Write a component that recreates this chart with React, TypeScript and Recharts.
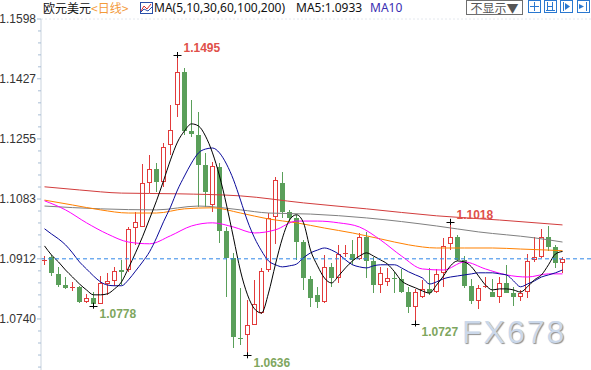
import React from 'react';
import { ComposedChart, Bar, Line, XAxis, YAxis, ReferenceLine, ReferenceDot } from 'recharts';

// daily EUR/USD candles
const opens = [
  1.0908, 1.0917, 1.0869, 1.0837, 1.0831, 1.0832, 1.0789, 1.0800, 1.0783, 1.0840,
  1.0849, 1.0880, 1.0880, 1.1000, 1.1003, 1.1129, 1.1169, 1.1132, 1.1238, 1.1352,
  1.1446, 1.1278, 1.1266, 1.1181, 1.1066, 1.1175, 1.0992, 1.0915, 1.0686, 1.0694,
  1.0723, 1.0757, 1.0880, 1.1032, 1.1129, 1.1046, 1.1029, 1.0960, 1.0855, 1.0809,
  1.0789, 1.0889, 1.0857, 1.0928, 1.0926, 1.0912, 1.0975, 1.0906, 1.0837, 1.0846,
  1.0857, 1.0855, 1.0817, 1.0774, 1.0803, 1.0826, 1.0817, 1.0872, 1.0955, 1.0975,
  1.0909, 1.0834, 1.0792, 1.0834, 1.0817, 1.0803, 1.0843, 1.0814, 1.0803, 1.0817,
  1.0909, 1.0917, 1.0975, 1.0946, 1.0899,
];
const closes = [
  1.0909, 1.0872, 1.0837, 1.0829, 1.0832, 1.0789, 1.0800, 1.0783, 1.0843, 1.0849,
  1.0877, 1.0875, 1.0998, 1.1017, 1.1129, 1.1169, 1.1132, 1.1232, 1.1281, 1.1446,
  1.1278, 1.1269, 1.1181, 1.1103, 1.1178, 1.0992, 1.0915, 1.0689, 1.0685, 1.0723,
  1.0783, 1.0877, 1.1029, 1.1138, 1.1046, 1.1029, 1.0960, 1.0857, 1.0800, 1.0789,
  1.0889, 1.0857, 1.0926, 1.0929, 1.0909, 1.0975, 1.0906, 1.0837, 1.0872, 1.0857,
  1.0856, 1.0817, 1.0774, 1.0817, 1.0826, 1.0814, 1.0869, 1.0949, 1.0975, 1.0909,
  1.0834, 1.0792, 1.0829, 1.0835, 1.0803, 1.0843, 1.0814, 1.0803, 1.0814, 1.0906,
  1.0917, 1.0975, 1.0946, 1.0900, 1.0912,
];
const highs = [
  1.0920, 1.0923, 1.0889, 1.0860, 1.0846, 1.0834, 1.0812, 1.0817, 1.0863, 1.0872,
  1.0889, 1.0909, 1.1003, 1.1046, 1.1183, 1.1209, 1.1186, 1.1243, 1.1352, 1.1495,
  1.1458, 1.1366, 1.1332, 1.1215, 1.1189, 1.1186, 1.1003, 1.0929, 1.0829, 1.0794,
  1.0852, 1.0886, 1.1043, 1.1146, 1.1161, 1.1052, 1.1038, 1.0966, 1.0863, 1.0832,
  1.0923, 1.0900, 1.0952, 1.0952, 1.0966, 1.0986, 1.0989, 1.0917, 1.0889, 1.0886,
  1.0875, 1.0883, 1.0832, 1.0826, 1.0852, 1.0886, 1.0883, 1.0972, 1.1018, 1.0980,
  1.0920, 1.0855, 1.0837, 1.0860, 1.0855, 1.0860, 1.0895, 1.0832, 1.0823, 1.0926,
  1.0975, 1.0997, 1.1006, 1.0952, 1.0918,
];
const lows = [
  1.0895, 1.0863, 1.0832, 1.0826, 1.0820, 1.0786, 1.0786, 1.0778, 1.0782, 1.0809,
  1.0834, 1.0837, 1.0875, 1.0952, 1.1002, 1.1100, 1.1103, 1.1118, 1.1209, 1.1318,
  1.1266, 1.1261, 1.1060, 1.1060, 1.1046, 1.0957, 1.0803, 1.0657, 1.0666, 1.0636,
  1.0722, 1.0754, 1.0875, 1.0955, 1.1029, 1.1018, 1.0909, 1.0823, 1.0774, 1.0772,
  1.0786, 1.0832, 1.0843, 1.0917, 1.0895, 1.0909, 1.0857, 1.0814, 1.0814, 1.0834,
  1.0814, 1.0814, 1.0757, 1.0727, 1.0800, 1.0809, 1.0814, 1.0832, 1.0937, 1.0906,
  1.0829, 1.0783, 1.0769, 1.0829, 1.0802, 1.0786, 1.0813, 1.0777, 1.0792, 1.0800,
  1.0903, 1.0915, 1.0935, 1.0886, 1.0872,
];

const ma5 = [
  1.0949, 1.0923, 1.0903, 1.0880, 1.0860, 1.0840, 1.0823, 1.0809, 1.0809, 1.0812,
  1.0826, 1.0846, 1.0886, 1.0929, 1.0975, 1.1026, 1.1078, 1.1135, 1.1195, 1.1246,
  1.1278, 1.1298, 1.1292, 1.1263, 1.1215, 1.1149, 1.1066, 1.0972, 1.0877, 1.0809,
  1.0769, 1.0757, 1.0814, 1.0897, 1.0972, 1.1023, 1.1038, 1.1015, 1.0937, 1.0892,
  1.0857, 1.0843, 1.0863, 1.0886, 1.0906, 1.0920, 1.0929, 1.0920, 1.0909, 1.0897,
  1.0875, 1.0849, 1.0837, 1.0829, 1.0820, 1.0814, 1.0837, 1.0863, 1.0892, 1.0906,
  1.0903, 1.0889, 1.0863, 1.0837, 1.0823, 1.0826, 1.0826, 1.0823, 1.0817, 1.0832,
  1.0852, 1.0866, 1.0895, 1.0926, 1.0933,
];
const ma10 = [
  1.0998, 1.0983, 1.0969, 1.0952, 1.0929, 1.0903, 1.0883, 1.0863, 1.0846, 1.0837,
  1.0835, 1.0835, 1.0852, 1.0877, 1.0903, 1.0932, 1.0972, 1.1018, 1.1060, 1.1109,
  1.1149, 1.1186, 1.1215, 1.1226, 1.1229, 1.1215, 1.1183, 1.1138, 1.1080, 1.1020,
  1.0972, 1.0935, 1.0906, 1.0895, 1.0889, 1.0892, 1.0897, 1.0915, 1.0929, 1.0937,
  1.0943, 1.0937, 1.0926, 1.0909, 1.0895, 1.0889, 1.0886, 1.0892, 1.0895, 1.0895,
  1.0895, 1.0886, 1.0875, 1.0866, 1.0857, 1.0840, 1.0846, 1.0855, 1.0860, 1.0863,
  1.0866, 1.0869, 1.0872, 1.0872, 1.0872, 1.0869, 1.0866, 1.0849, 1.0832, 1.0840,
  1.0849, 1.0860, 1.0866, 1.0872, 1.0880,
];
// slower averages, sampled at [candle index, value]
const ma30: [number, number][] = [
  [0, 1.1078], [3, 1.1052], [6, 1.1015], [9, 1.0983], [12, 1.0960], [15, 1.0955],
  [18, 1.0978], [21, 1.1006], [24, 1.1015], [27, 1.1003], [30, 1.0986], [33, 1.0995],
  [36, 1.1020], [39, 1.1020], [42, 1.1015], [45, 1.1003], [48, 1.0966], [51, 1.0920],
  [54, 1.0883], [57, 1.0880], [60, 1.0903], [63, 1.0883], [66, 1.0866], [69, 1.0860],
  [72, 1.0869], [74, 1.0869],
];
const ma60: [number, number][] = [
  [0, 1.1080], [4, 1.1066], [8, 1.1052], [12, 1.1043], [16, 1.1043], [20, 1.1055],
  [24, 1.1058], [28, 1.1043], [32, 1.1026], [36, 1.1015], [40, 1.1000], [44, 1.0986],
  [48, 1.0969], [52, 1.0952], [56, 1.0943], [60, 1.0943], [64, 1.0943], [68, 1.0940],
  [72, 1.0937], [74, 1.0935],
];
const ma100: [number, number][] = [
  [0, 1.1063], [8, 1.1055], [16, 1.1052], [22, 1.1063], [28, 1.1052], [32, 1.1043],
  [38, 1.1040], [46, 1.1029], [56, 1.1006], [62, 1.0989], [70, 1.0972], [74, 1.0960],
];
const ma200: [number, number][] = [
  [0, 1.1118], [5, 1.1109], [11, 1.1100], [19, 1.1098], [28, 1.1092], [37, 1.1072],
  [46, 1.1055], [56, 1.1035], [65, 1.1023], [74, 1.1009],
];

const yTicks = [1.0740, 1.0912, 1.1083, 1.1255, 1.1427, 1.1598];
const lastPrice = 1.0912;
// marked highs and lows
const extremes: { idx: number; kind: 'high' | 'low' }[] = [
  { idx: 7, kind: 'low' },
  { idx: 19, kind: 'high' },
  { idx: 29, kind: 'low' },
  { idx: 53, kind: 'low' },
  { idx: 58, kind: 'high' },
];

const pick = (pts: [number, number][], i: number) => {
  const f = pts.find((p) => p[0] === i);
  return f ? f[1] : null;
};

const data = opens.map((o, i) => ({
  idx: i,
  range: [lows[i], highs[i]],
  open: o,
  close: closes[i],
  high: highs[i],
  low: lows[i],
  ma5: ma5[i],
  ma10: ma10[i],
  ma30: pick(ma30, i),
  ma60: pick(ma60, i),
  ma100: pick(ma100, i),
  ma200: pick(ma200, i),
}));

// labelled ticks plus 4 minor ticks between (and below) them
const allTicks: number[] = [];
yTicks.forEach((t, i) => {
  allTicks.push(t);
  const next = i < yTicks.length - 1 ? yTicks[i + 1] : null;
  if (next !== null) for (let k = 1; k < 5; k++) allTicks.push(t + ((next - t) * k) / 5);
});
const gap = (yTicks[1] - yTicks[0]) / 5;
for (let k = 1; k < 5; k++) allTicks.push(yTicks[0] - gap * k);

const UP = '#e23b3b';
const DOWN = '#5a9f5a';

const Candle = (props: any) => {
  const { x, y, width, height, payload } = props;
  const { open, close, high, low } = payload;
  const up = close >= open;
  const color = up ? UP : DOWN;
  const toY = (v: number) => y + ((high - v) / (high - low)) * height;
  const left = Math.round(x + width / 2 - 2.5);
  const cx = left + 2.5;
  const top = Math.round(y);
  const bottom = Math.round(y + height);
  const bt = Math.round(toY(Math.max(open, close)));
  const bb = Math.round(toY(Math.min(open, close)));
  if (bb - bt < 2) {
    return (
      <g>
        <line x1={cx} x2={cx} y1={top} y2={bottom} stroke={color} />
        <line x1={left} x2={left + 5} y1={bt + 0.5} y2={bt + 0.5} stroke={color} />
      </g>
    );
  }
  if (up) {
    return (
      <g>
        <line x1={cx} x2={cx} y1={top} y2={bt} stroke={color} />
        <line x1={cx} x2={cx} y1={bb} y2={bottom} stroke={color} />
        <rect x={left + 0.5} y={bt + 0.5} width={4} height={bb - bt - 1} fill="#fff" stroke={color} />
      </g>
    );
  }
  return (
    <g>
      <line x1={cx} x2={cx} y1={top} y2={bottom} stroke={color} />
      <rect x={left} y={bt} width={5} height={bb - bt} fill={color} />
    </g>
  );
};

const AxisTick = (props: any) => {
  const { y, payload } = props;
  const v = payload.value;
  const major = yTicks.some((t) => Math.abs(t - v) < 1e-7);
  return (
    <g>
      <line x1={major ? 37 : 38} x2={41} y1={y} y2={y} stroke="#a8bdd4" />
      {major && (
        <text x={36} y={y} dy={4} textAnchor="end" fontSize={12} fill="#333"
          fontFamily="'Liberation Sans', Arial, sans-serif">
          {v.toFixed(4)}
        </text>
      )}
    </g>
  );
};

const Extreme = (props: any) => {
  const { cx, cy, kind, value } = props;
  const high = kind === 'high';
  return (
    <g>
      <line x1={cx - 4} x2={cx + 4} y1={Math.round(cy) + 0.5} y2={Math.round(cy) + 0.5} stroke="#000" />
      <line x1={cx} x2={cx} y1={cy - 3} y2={cy + 3} stroke="#000" />
      <text x={cx + 6} y={high ? cy - 3 : cy + 12} fontSize={12} fontWeight="bold"
        fill={high ? '#e0504a' : '#7ea65e'} fontFamily="'Liberation Sans', Arial, sans-serif">
        {value.toFixed(4)}
      </text>
    </g>
  );
};

const Icon = ({ left, children }: { left: number; children: React.ReactNode }) => (
  <svg style={{ position: 'absolute', left, top: 0 }} width={13} height={13} viewBox="0 0 13 13">
    <rect x={0.5} y={0.5} width={12} height={12} fill="#fff" stroke="#2a78d0" />
    <g stroke="#2a78d0" fill="#2a78d0">{children}</g>
  </svg>
);

const latin = "'Noto Sans', 'Liberation Sans', sans-serif";
const cjk = "'Noto Sans CJK SC', sans-serif";

export default function App() {
  return (
    <div style={{ position: 'absolute', left: 0, top: 0, width: 591, height: 370, background: '#fff', overflow: 'hidden' }}>
      <ComposedChart width={591} height={370} data={data} margin={{ top: 19, right: 0, bottom: 0, left: 0 }}>
        <XAxis dataKey="idx" hide padding={{ left: 0, right: 25 }} />
        <YAxis
          domain={[1.0594, 1.1598]}
          allowDataOverflow
          ticks={allTicks}
          width={41}
          interval={0}
          axisLine={{ stroke: '#c9d3de' }}
          tickLine={false}
          tick={<AxisTick />}
        />
        <ReferenceLine y={1.1598} stroke="#e4e8ee" strokeDasharray="2 2" />
        <Bar dataKey="range" barSize={5} shape={<Candle />} isAnimationActive={false} />
        <Line dataKey="ma200" type="monotone" stroke="#d23c3c" strokeWidth={1} dot={false} connectNulls isAnimationActive={false} />
        <Line dataKey="ma100" type="monotone" stroke="#808080" strokeWidth={1} dot={false} connectNulls isAnimationActive={false} />
        <Line dataKey="ma60" type="monotone" stroke="#ff8000" strokeWidth={1} dot={false} connectNulls isAnimationActive={false} />
        <Line dataKey="ma30" type="monotone" stroke="#ff00ff" strokeWidth={1} dot={false} connectNulls isAnimationActive={false} />
        <Line dataKey="ma10" type="monotone" stroke="#0a0a9a" strokeWidth={1} dot={false} isAnimationActive={false} />
        <Line dataKey="ma5" type="monotone" stroke="#000000" strokeWidth={1} dot={false} isAnimationActive={false} />
        <ReferenceLine y={lastPrice} stroke="#2f86e8" strokeDasharray="4 3" />
        {extremes.map((e) => {
          const value = e.kind === 'high' ? highs[e.idx] : lows[e.idx];
          return (
            <ReferenceDot key={e.idx} x={e.idx} y={value} r={0} ifOverflow="visible"
              shape={(p: any) => <Extreme {...p} kind={e.kind} value={value} />} />
          );
        })}
      </ComposedChart>

      <div style={{ position: 'absolute', left: 462, top: 314, fontFamily: "'Liberation Sans', Arial, sans-serif",
        fontSize: 32, letterSpacing: 2, color: '#cbd8ea', textShadow: '1px 1px 1px #8f8f8f', lineHeight: '36px' }}>
        FX678
      </div>

      <div style={{ position: 'absolute', left: 0, top: 0, width: 591, height: 17, fontSize: 12, lineHeight: '16px', whiteSpace: 'nowrap' }}>
        <span style={{ position: 'absolute', left: 43, top: 0, fontFamily: cjk, color: '#111' }}>欧元美元</span>
        <span style={{ position: 'absolute', left: 91, top: 0, fontFamily: cjk, color: '#f39a3a' }}>&lt;日线&gt;</span>
        <svg style={{ position: 'absolute', left: 140, top: 2 }} width={13} height={12} viewBox="0 0 13 12">
          <rect x={0.5} y={0.5} width={12} height={11} fill="#fff" stroke="#2a4fa8" />
          <polyline points="1,9 4,4 7,7 11,2" fill="none" stroke="#d83030" />
          <polyline points="1,10 4,7 8,9 12,5" fill="none" stroke="#2a4fa8" />
        </svg>
        <span style={{ position: 'absolute', left: 154, top: 0, fontFamily: latin, fontSize: 12, color: '#111' }}>
          MA(5,10,30,60,100,200)
        </span>
        <span style={{ position: 'absolute', left: 296, top: 0, fontFamily: latin, fontSize: 12, color: '#111' }}>
          MA5:{ma5[ma5.length - 1].toFixed(4)}
        </span>
        <span style={{ position: 'absolute', left: 370, top: 0, fontFamily: latin, fontSize: 12, color: '#3a2eb2' }}>MA10</span>
        <div style={{ position: 'absolute', left: 466, top: 0, width: 55, height: 13, border: '1px solid #6f6f6f',
          fontFamily: cjk, fontSize: 12, lineHeight: '13px', color: '#555', textAlign: 'center' }}>
          不显示▼
        </div>
        <Icon left={528}>
          <line x1={6.5} x2={6.5} y1={2} y2={11} />
          <line x1={2} x2={11} y1={6.5} y2={6.5} />
        </Icon>
        <Icon left={544}>
          <line x1={3.5} x2={3.5} y1={2} y2={10} />
          <line x1={8.5} x2={8.5} y1={2} y2={10} />
          <line x1={2} x2={11} y1={10.5} y2={10.5} />
          <line x1={3} x2={9} y1={6.5} y2={6.5} />
        </Icon>
        <Icon left={560}>
          <line x1={3.5} x2={3.5} y1={2} y2={11} />
          <polygon points="5,3 10,6.5 5,10" stroke="none" />
        </Icon>
        <Icon left={577}>
          <polygon points="2,4 7,6.5 2,9" stroke="none" />
          <line x1={9.5} x2={9.5} y1={2} y2={11} />
        </Icon>
      </div>
    </div>
  );
}
